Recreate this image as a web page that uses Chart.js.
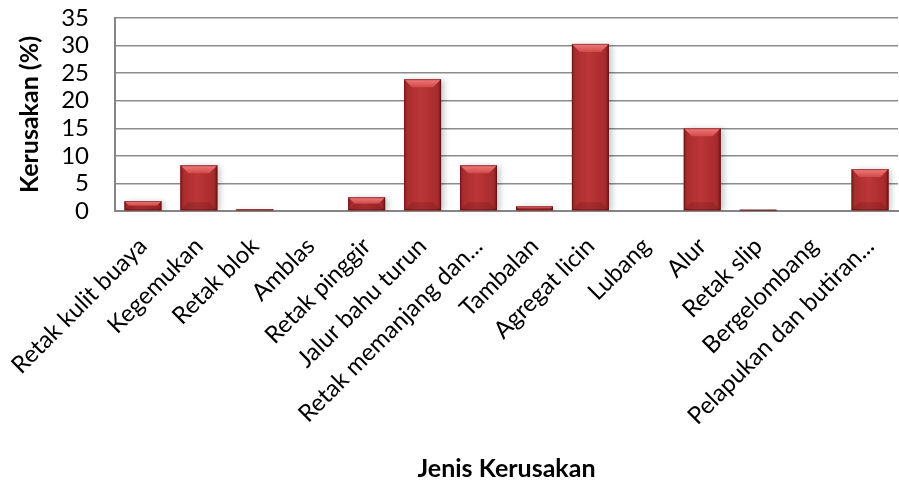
<!DOCTYPE html>
<html>
<head>
<meta charset="utf-8">
<script src="https://cdn.jsdelivr.net/npm/chart.js@4"></script>
<style>
  html, body { margin: 0; padding: 0; background: #fff; }
  #wrap { width: 899px; height: 484px; }
</style>
</head>
<body>
<div id="wrap"><canvas id="chart" width="899" height="484"></canvas></div>
<script>
/* ---------- DATA ---------- */
const categories = [
  "Retak kulit buaya", "Kegemukan", "Retak blok", "Amblas", "Retak pinggir",
  "Jalur bahu turun", "Retak memanjang dan...", "Tambalan", "Agregat licin",
  "Lubang", "Alur", "Retak slip", "Bergelombang", "Pelapukan dan butiran..."
];
const kerusakan = [1.8, 8.3, 0.3, 0, 2.5, 23.9, 8.3, 0.85, 30.3, 0, 15.0, 0.2, 0, 7.6];
const yTicks = [0, 5, 10, 15, 20, 25, 30, 35];

const FONT = "Lato, 'Open Sans', sans-serif";

/* ---------- 3D BAR LOOK ---------- */
const bevelBars = {
  id: "bevelBars",
  beforeDatasetDraw(chart) {
    const c = chart.ctx;
    c.save();
    c.shadowColor = "rgba(0,0,0,0.22)";
    c.shadowBlur = 6;
    c.shadowOffsetX = 3;
    c.shadowOffsetY = 1;
  },
  afterDatasetDraw(chart) {
    const c = chart.ctx;
    c.restore();
    const meta = chart.getDatasetMeta(0);
    meta.data.forEach(bar => {
      const h = bar.base - bar.y;
      if (h <= 0) return;
      const l = bar.x - bar.width / 2, r = bar.x + bar.width / 2;
      const t = bar.y, b = bar.base;

      // horizontal shading
      const g = c.createLinearGradient(l, 0, r, 0);
      g.addColorStop(0, "#8a2122");
      g.addColorStop(0.1, "#ab2d2f");
      g.addColorStop(0.45, "#bb3637");
      g.addColorStop(0.9, "#a82b2d");
      g.addColorStop(1, "#761a1b");
      c.fillStyle = g;
      c.fillRect(l, t, r - l, h);

      const bv = Math.min(8, h / 2, bar.width / 4);

      // top bevel (lighter)
      c.beginPath();
      c.moveTo(l, t); c.lineTo(r, t); c.lineTo(r - bv, t + bv); c.lineTo(l + bv, t + bv);
      c.closePath();
      const gt = c.createLinearGradient(0, t, 0, t + bv);
      gt.addColorStop(0, "#f27c7c");
      gt.addColorStop(1, "#d2494a");
      c.fillStyle = gt;
      c.fill();

      // bottom bevel (slightly darker)
      c.beginPath();
      c.moveTo(l, b); c.lineTo(r, b); c.lineTo(r - bv, b - bv); c.lineTo(l + bv, b - bv);
      c.closePath();
      c.fillStyle = "rgba(90,15,15,0.22)";
      c.fill();

      // thin dark outline at the edges
      c.strokeStyle = "rgba(80,10,10,0.5)";
      c.lineWidth = 1;
      c.strokeRect(l + 0.5, t + 0.5, r - l - 1, h - 1);
    });
  }
};

/* ---------- CHART ---------- */
const ctx = document.getElementById("chart").getContext("2d");

new Chart(ctx, {
  type: "bar",
  data: {
    labels: categories,
    datasets: [
      {
        label: "Kerusakan (%)",
        data: kerusakan,
        backgroundColor: "#b83536",
        borderWidth: 0,
        categoryPercentage: 1,
        barPercentage: 0.66
      }
    ]
  },
  plugins: [bevelBars],
  options: {
    responsive: false,
    animation: false,
    devicePixelRatio: 1,
    layout: { padding: { top: 18, right: 1, left: 15, bottom: 0 } },
    plugins: {
      legend: { display: false },
      tooltip: { enabled: false }
    },
    scales: {
      x: {
        grid: { display: false, drawTicks: false },
        border: { display: true, color: "#868686", width: 2 },
        ticks: {
          autoSkip: false,
          minRotation: 45,
          maxRotation: 45,
          padding: 21,
          color: "#000",
          font: { family: FONT, size: 24 }
        },
        title: {
          display: true,
          text: "Jenis Kerusakan",
          color: "#000",
          font: { family: FONT, size: 25, weight: "bold" },
          padding: { top: 0, bottom: 0 }
        },
        afterFit(scale) {
          scale.height = 273;
          scale.paddingLeft = 0;
          scale.paddingRight = 0;
        }
      },
      y: {
        min: 0,
        max: 35,
        afterBuildTicks(scale) { scale.ticks = yTicks.map(v => ({ value: v })); },
        grid: { color: "#8c8c8c", lineWidth: 1.5, drawTicks: false },
        border: { display: true, color: "#868686", width: 2 },
        ticks: {
          autoSkip: false,
          padding: 26,
          color: "#000",
          font: { family: FONT, size: 24 }
        },
        title: {
          display: true,
          text: "Kerusakan (%)",
          color: "#000",
          font: { family: FONT, size: 25, weight: "bold" },
          padding: { top: 0, bottom: 4 }
        },
        afterFit(scale) {
          scale.width = 100;
          scale.paddingTop = 0;
          scale.paddingBottom = 0;
        }
      }
    }
  }
});
</script>
</body>
</html>
